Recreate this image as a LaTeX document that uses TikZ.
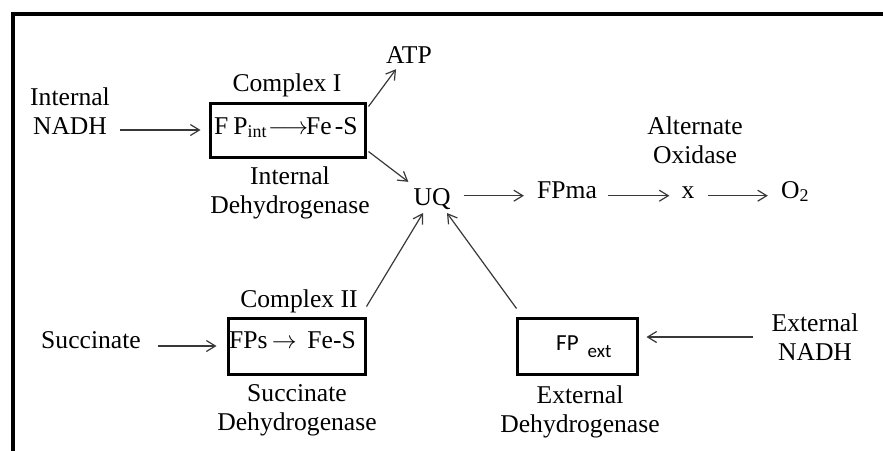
\documentclass[tikz,border=0pt]{standalone}
\usepackage{fontspec}
\setmainfont{Liberation Serif}
\newfontfamily\calibri{Carlito}
\usetikzlibrary{arrows.meta,calc}

\begin{document}
\begin{tikzpicture}[x=1pt,y=-1pt,
  every node/.style={font=\fontsize{25.6}{28.5}\selectfont, inner sep=0pt},
  lbl/.style={align=center, anchor=base},
  enzbox/.style={draw, line width=3pt, inner sep=0pt},
  arr/.style={-{Straight Barb[length=9pt,width=11pt,line width=1.2pt]},
              line width=1.2pt, draw=black!78},
]
\useasboundingbox (0,0) rectangle (883,450);

% outer frame (left and top edges)
\draw[line width=4pt] (12.5,470) -- (12.5,14) -- (900,14);

% ---- Complex I ----
% (two-line labels are placed by the baseline of their last line)
\node[lbl] (inadh) at (70,134) {Internal\\NADH};
\node[enzbox, minimum width=155pt, minimum height=54pt] (c1) at (287.5,130) {};
\node[anchor=base west] (c1txt) at (214,134)
  {F\kern5pt P\textsubscript{int}\kern1pt\(\longrightarrow\)\kern-2pt Fe\kern3pt-S};
\node[lbl] (cx1) at (287,91) {Complex I};
\node[lbl] (ideh) at (290,213) {Internal\\Dehydrogenase};
\node[lbl] (atp) at (409,63) {ATP};

% ---- ubiquinone and alternate pathway ----
\node[lbl] (uq) at (432,205) {UQ};
\node[lbl] (fpma) at (567,198) {FPma};
\node[lbl] (xx) at (688,198) {x};
\node[lbl] (o2) at (795,198) {O\textsubscript{2}};
\node[lbl] (aox) at (695,163) {Alternate\\Oxidase};

% ---- Complex II ----
\node[lbl] (succ) at (91,348) {Succinate};
\node[enzbox, minimum width=137pt, minimum height=56pt] (c2) at (296.5,346) {};
\node[anchor=base west] (c2txt) at (229,348) {FPs\,\(\rightarrow\)\, Fe-S};
\node[lbl] (cx2) at (299,307) {Complex II};
\node[lbl] (sdeh) at (297,430) {Succinate\\Dehydrogenase};

% ---- external dehydrogenase ----
\node[enzbox, minimum width=120pt, minimum height=56pt] (c3) at (577,346) {};
\node[anchor=base west] (c3txt) at (556,350)
  {\calibri\fontsize{23}{26}\selectfont FP\hspace{9pt}\raisebox{-7pt}{\fontsize{19}{22}\selectfont ext}};
\node[lbl] (edeh) at (580,432) {External\\Dehydrogenase};
\node[lbl] (enadh) at (815,360) {External\\NADH};
\coordinate (enstart) at (753,337);

% ---- connectors ----
\draw[arr, shorten <=10pt, shorten >=8pt] (inadh.east |- c1.west) -- (c1.west);
\draw[arr] ($(c1.north east)+(2,5)$) -- ($(atp.south west)+(10,6)$);
\draw[arr] ($(c1.south east)+(2,-7)$) -- ($(uq.north west)+(-5,-6)$);
\draw[arr, shorten <=13pt, shorten >=13pt] (uq.east |- fpma.mid) -- (fpma.mid west);
\draw[arr, shorten <=11pt, shorten >=12pt] (fpma.mid east) -- (xx.mid west);
\draw[arr, shorten <=13pt, shorten >=13pt] (xx.mid east) -- (o2.west |- xx.mid);
\draw[arr, shorten <=17pt, shorten >=10pt] (succ.east |- c2.west) -- (c2.west);
\draw[arr] ($(c2.north east)+(0,-10)$) -- ($(uq.base)+(-9,8)$);
\draw[arr] ($(c3.north west)+(1,-8)$) -- ($(uq.base)+(15,8)$);
\draw[arr, shorten >=8pt] (enstart) -- (enstart -| c3.east);
\end{tikzpicture}
\end{document}
